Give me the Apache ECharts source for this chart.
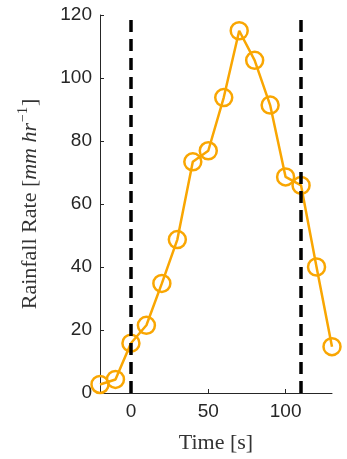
<!DOCTYPE html>
<html>
<head>
<meta charset="utf-8">
<script src="https://cdn.jsdelivr.net/npm/echarts@6/dist/echarts.min.js"></script>
<style>
  html, body { margin: 0; padding: 0; background: #fff; }
  #chart { width: 347px; height: 459px; }
</style>
</head>
<body>
<div id="chart"></div>
<script>
// Rainfall rate time series (s, mm/hr)
const timeSeconds = [-20, -10, 0, 10, 20, 30, 40, 50, 60, 70, 80, 90, 100, 110, 120, 130];
const rainfallRate = [2.7, 4.3, 15.8, 21.5, 34.8, 48.7, 73.4, 76.9, 93.8, 115.0, 105.6, 91.4, 68.6, 65.9, 40.0, 14.7];
// Start and end of the event window
const eventBounds = [0, 110];
// Axis ticks
const xTicks = [0, 50, 100];
const yTicks = [0, 20, 40, 60, 80, 100, 120];

const ORANGE = '#f9a602';
const INK = '#262626';
const SERIF = '"Liberation Serif", "DejaVu Serif", serif';
const SANS = '"Liberation Sans", Arial, sans-serif';

const chart = echarts.init(document.getElementById('chart'), null, { renderer: 'canvas' });

chart.setOption({
  animation: false,
  backgroundColor: '#fff',
  grid: { left: 100, right: 15, top: 15, bottom: 62 },
  xAxis: {
    type: 'value',
    min: -20,
    max: 130,
    name: 'Time [s]',
    nameLocation: 'middle',
    nameGap: 39,
    nameTextStyle: { fontFamily: SERIF, fontSize: 22, color: '#333' },
    axisLine: { show: true, onZero: false, lineStyle: { color: INK, width: 1 } },
    axisTick: { show: true, inside: true, length: 4, customValues: xTicks, lineStyle: { color: INK } },
    axisLabel: { customValues: xTicks, fontFamily: SANS, fontSize: 19, color: INK, margin: 9 },
    splitLine: { show: false }
  },
  yAxis: {
    type: 'value',
    min: 0,
    max: 120,
    interval: 20,
    name: '{r|Rainfall Rate [}{i|mm hr}{s|−1}{r|]}',
    nameLocation: 'middle',
    nameGap: 56,
    nameRotate: 90,
    nameTextStyle: {
      rich: {
        r: { fontFamily: SERIF, fontSize: 22, color: '#333' },
        i: { fontFamily: SERIF, fontSize: 22, fontStyle: 'italic', color: '#333' },
        s: { fontFamily: SERIF, fontSize: 14, color: '#333', padding: [0, 1, 14, 1] }
      }
    },
    axisLine: { show: true, onZero: false, lineStyle: { color: INK, width: 1 } },
    axisTick: { show: true, inside: true, length: 4, lineStyle: { color: INK } },
    axisLabel: { customValues: yTicks, fontFamily: SANS, fontSize: 19, color: INK, margin: 8 },
    splitLine: { show: false }
  },
  series: [
    {
      type: 'line',
      data: timeSeconds.map((t, i) => [t, rainfallRate[i]]),
      symbol: 'circle',
      symbolSize: 17,
      lineStyle: { color: ORANGE, width: 2.5 },
      itemStyle: { color: 'rgba(0,0,0,0)', borderColor: ORANGE, borderWidth: 2.5 },
      z: 2
    },
    {
      type: 'line',
      data: [],
      z: 5,
      markLine: {
        silent: true,
        symbol: ['none', 'none'],
        label: { show: false },
        lineStyle: { color: '#000', width: 3.5, type: [12, 7] },
        data: eventBounds.map(v => ({ xAxis: v }))
      }
    }
  ]
});
</script>
</body>
</html>
